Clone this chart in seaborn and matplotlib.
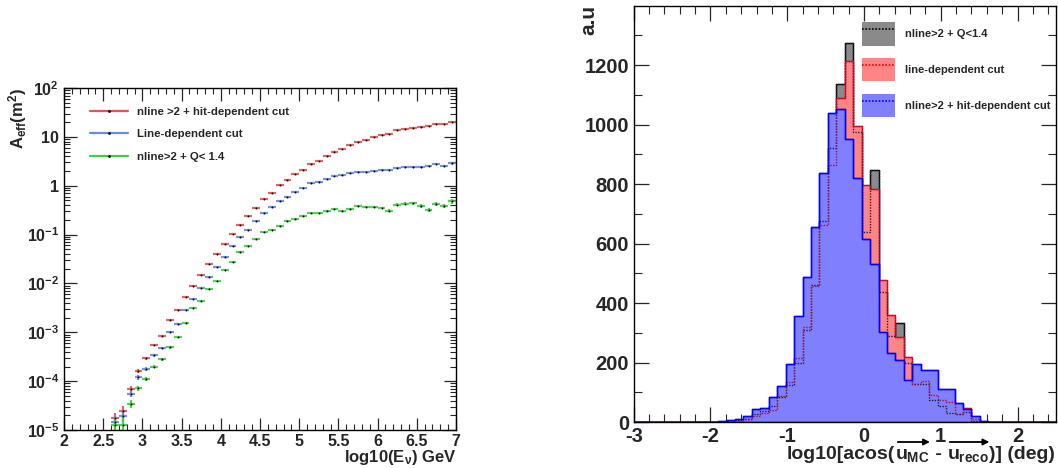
import numpy as np
import pandas as pd
import matplotlib
matplotlib.use('Agg')
import matplotlib.pyplot as plt
import matplotlib.ticker as mticker
from matplotlib.lines import Line2D
from matplotlib.patches import Patch, FancyArrowPatch
import seaborn as sns

# ---------------- left panel : effective area ----------------
log_e = [2.65, 2.75, 2.85, 2.95, 3.05, 3.15, 3.25, 3.35, 3.45, 3.55, 3.65,
         3.75, 3.85, 3.95, 4.05, 4.15, 4.25, 4.35, 4.45, 4.55, 4.65, 4.75,
         4.85, 4.95, 5.05, 5.15, 5.25, 5.35, 5.45, 5.55, 5.65, 5.75, 5.85,
         5.95, 6.05, 6.15, 6.25, 6.35, 6.45, 6.55, 6.65, 6.75, 6.85, 6.95]

aeff_hit = [1.74e-5, 2.45e-5, 6.9e-5, 1.62e-4, 2.95e-4, 5.5e-4, 8.5e-4, 1.78e-3,
            2.9e-3, 5.4e-3, 8.9e-3, 1.48e-2, 2.45e-2, 4.1e-2, 6.3e-2, 0.102,
            0.158, 0.24, 0.355, 0.54, 0.72, 1.02, 1.32, 1.74, 2.14, 2.8, 3.2,
            4.1, 5.0, 5.75, 6.8, 7.8, 8.5, 10.0, 10.7, 11.7, 13.5, 14.8, 15.5,
            16.2, 17.0, 18.2, 18.2, 20.0]
aeff_line = [1.48e-5, 1.95e-5, 5.5e-5, 1.2e-4, 1.78e-4, 3.4e-4, 4.8e-4, 1.0e-3,
             1.5e-3, 2.9e-3, 4.8e-3, 8.1e-3, 1.38e-2, 2.14e-2, 3.5e-2, 5.8e-2,
             8.9e-2, 0.126, 0.19, 0.275, 0.37, 0.48, 0.60, 0.76, 0.91, 1.15,
             1.2, 1.38, 1.55, 1.62, 1.78, 1.95, 1.95, 2.04, 2.14, 2.14, 2.34,
             2.45, 2.45, 2.45, 2.57, 2.75, 2.5, 2.88]
aeff_q = [1.26e-5, 1.26e-5, 3.5e-5, 7.1e-5, 1.1e-4, 2.0e-4, 2.8e-4, 4.9e-4,
          7.9e-4, 1.58e-3, 3.1e-3, 4.3e-3, 7.6e-3, 1.1e-2, 1.86e-2, 2.7e-2,
          4.5e-2, 5.9e-2, 8.1e-2, 0.112, 0.126, 0.148, 0.19, 0.21, 0.24,
          0.275, 0.275, 0.30, 0.34, 0.30, 0.34, 0.38, 0.37, 0.37, 0.35, 0.31,
          0.41, 0.43, 0.44, 0.39, 0.32, 0.43, 0.39, 0.48]

# relative statistical errors (fraction of the value)
err_hit = [0.3, 0.25, 0.15, 0.1, 0.07, 0.06, 0.05, 0.04, 0.03, 0.03, 0.02,
           0.02, 0.02, 0.02, 0.02, 0.02, 0.02, 0.02, 0.02, 0.02, 0.02, 0.02,
           0.02, 0.02, 0.02, 0.02, 0.02, 0.02, 0.02, 0.02, 0.02, 0.02, 0.02,
           0.02, 0.02, 0.02, 0.02, 0.02, 0.02, 0.02, 0.02, 0.02, 0.02, 0.03]
err_line = [0.35, 0.3, 0.15, 0.1, 0.08, 0.06, 0.05, 0.04, 0.03, 0.03, 0.02,
            0.02, 0.02, 0.02, 0.02, 0.02, 0.02, 0.02, 0.02, 0.02, 0.02, 0.02,
            0.02, 0.02, 0.02, 0.02, 0.02, 0.02, 0.02, 0.02, 0.02, 0.02, 0.02,
            0.03, 0.03, 0.03, 0.03, 0.03, 0.03, 0.03, 0.04, 0.04, 0.04, 0.06]
err_q = [0.4, 0.45, 0.2, 0.12, 0.1, 0.08, 0.06, 0.05, 0.04, 0.03, 0.03,
         0.03, 0.02, 0.02, 0.02, 0.02, 0.02, 0.02, 0.02, 0.02, 0.02, 0.03,
         0.03, 0.03, 0.03, 0.03, 0.03, 0.04, 0.04, 0.04, 0.04, 0.05, 0.05,
         0.05, 0.06, 0.06, 0.07, 0.08, 0.08, 0.09, 0.1, 0.1, 0.1, 0.13]

series_names = ['nline >2 + hit-dependent cut', 'Line-dependent cut', 'nline>2 + Q< 1.4']
series_colors = ['#e05555', '#6b8bd6', '#45cc45']

# ---------------- right panel : angular resolution histograms ----------------
bin_edges = [-3.0, -2.89, -2.78, -2.67, -2.56, -2.45, -2.34, -2.23, -2.12, -2.01,
             -1.9, -1.79, -1.68, -1.57, -1.46, -1.35, -1.24, -1.13, -1.02, -0.91,
             -0.8, -0.69, -0.58, -0.47, -0.36, -0.25, -0.14, -0.03, 0.08, 0.19,
             0.3, 0.41, 0.52, 0.63, 0.74, 0.85, 0.96, 1.07, 1.18, 1.29,
             1.4, 1.51, 1.62, 1.73, 1.84, 1.95, 2.06, 2.17, 2.28, 2.39, 2.5]

counts_q = [0, 0, 0, 0, 0, 0, 0, 0, 0, 1,
            2, 4, 6, 12, 28, 36, 55, 85, 125, 200,
            310, 460, 676, 921, 1135, 1275, 975, 640, 848, 438,
            289, 332, 199, 127, 128, 75, 55, 30, 28, 33,
            5, 1, 0, 0, 0, 0, 0, 0, 0, 0]
counts_line = [0, 0, 0, 0, 0, 2, 0, 2, 0, 1,
               2, 3, 5, 10, 22, 30, 42, 88, 135, 214,
               318, 458, 662, 865, 1090, 1213, 994, 798, 783, 478,
               361, 286, 219, 127, 138, 92, 73, 68, 28, 48,
               9, 1, 2, 2, 2, 0, 0, 0, 0, 0]
counts_hit = [0, 0, 0, 0, 0, 0, 0, 0, 0, 2,
              5, 8, 11, 20, 43, 48, 83, 122, 197, 358,
              486, 657, 837, 1039, 1053, 953, 821, 616, 532, 303,
              232, 208, 141, 197, 176, 176, 112, 112, 64, 43,
              19, 3, 0, 0, 0, 0, 0, 0, 0, 0]

hist_names = ['nline>2 + Q<1.4', 'line-dependent cut', 'nline>2 + hit-dependent cut']
hist_edge = ['black', '#ff0000', '#0000ff']
hist_fill = ['#8a8a8a', '#ff8585', '#8080ff']

# ---------------- style ----------------
sns.set_style('ticks')
plt.rcParams['font.family'] = ['Liberation Sans', 'DejaVu Sans']
plt.rcParams['font.weight'] = 'bold'
plt.rcParams['mathtext.fontset'] = 'custom'
plt.rcParams['mathtext.rm'] = 'Liberation Sans:bold'
plt.rcParams['mathtext.it'] = 'Liberation Sans:bold'
plt.rcParams['mathtext.bf'] = 'Liberation Sans:bold'
plt.rcParams['mathtext.sf'] = 'Liberation Sans:bold'
plt.rcParams['axes.linewidth'] = 1.0
plt.rcParams['axes.edgecolor'] = 'black'

W, H = 1058, 468
fig = plt.figure(figsize=(W / 100, H / 100), dpi=100)
ax1 = fig.add_axes([0.0605, 0.081, 0.3705, 0.731])
ax2 = fig.add_axes([0.599, 0.098, 0.399, 0.889])

# ---- left plot ----
df = pd.DataFrame({'logE': log_e * 3,
                   'aeff': aeff_hit + aeff_line + aeff_q,
                   'err': err_hit + err_line + err_q,
                   'cut': [series_names[0]] * len(log_e) + [series_names[1]] * len(log_e)
                          + [series_names[2]] * len(log_e)})
for name, col in zip(series_names, series_colors):
    sub = df[df['cut'] == name]
    ax1.errorbar(sub['logE'], sub['aeff'], xerr=0.05, yerr=sub['aeff'] * sub['err'],
                 fmt='none', ecolor=col, elinewidth=1.6, capsize=0, alpha=0.9)
sns.scatterplot(data=df, x='logE', y='aeff', color='black', s=2, linewidth=0,
                legend=False, ax=ax1, zorder=3)

ax1.set_yscale('log')
ax1.set_xlim(2, 7)
ax1.set_ylim(1e-5, 1e2)
ax1.xaxis.set_major_locator(mticker.MultipleLocator(0.5))
ax1.xaxis.set_minor_locator(mticker.MultipleLocator(0.1))
ax1.xaxis.set_major_formatter(mticker.FuncFormatter(lambda v, p: f'{v:g}'))


def log_fmt(v, p):
    e = int(round(np.log10(v)))
    if e == 0:
        return '1'
    if e == 1:
        return '10'
    return r'$10^{%d}$' % e


ax1.yaxis.set_major_locator(mticker.LogLocator(base=10, numticks=10))
ax1.yaxis.set_minor_locator(mticker.LogLocator(base=10, subs=np.arange(2, 10), numticks=20))
ax1.yaxis.set_major_formatter(mticker.FuncFormatter(log_fmt))
ax1.yaxis.set_minor_formatter(mticker.NullFormatter())
ax1.tick_params(which='both', direction='in', top=True, right=True, labelsize=11.5)
ax1.tick_params(axis='x', pad=3)
ax1.tick_params(which='major', length=9, width=0.9)
ax1.tick_params(which='minor', length=4.5, width=0.8)
ax1.set_xlabel('')
ax1.set_ylabel('')
fig.text(0.431, 0.002, r'log10(E$_{\nu}$) GeV', ha='right', va='bottom', fontsize=12,
         fontweight='bold')
fig.text(0.006, 0.812, r'A$_{\rm eff}$(m$^{2}$)', rotation=90, ha='left', va='top',
         fontsize=12, fontweight='bold')

handles = [Line2D([0], [0], color=c, lw=1.6, marker='.', markersize=2,
                  markerfacecolor='black', markeredgecolor='black') for c in series_colors]
ax1.legend(handles, series_names, loc='upper left', bbox_to_anchor=(0.04, 0.975),
           frameon=False, handlelength=3.3, handletextpad=0.85,
           labelspacing=1.1, prop={'weight': 'bold', 'size': 8.2})

# ---- right plot ----
centers = [(a + b) / 2 for a, b in zip(bin_edges[:-1], bin_edges[1:])]
for counts, ec, fc in zip([counts_q, counts_line, counts_hit], hist_edge, hist_fill):
    sns.histplot(x=centers, weights=counts, bins=bin_edges, element='step', fill=True,
                 color=fc, edgecolor=ec, alpha=1.0, linewidth=1.0, ax=ax2)
# dotted outlines visible through the front histogram
for counts, ec in zip([counts_q, counts_line], ['#202040', '#a01050']):
    sns.histplot(x=centers, weights=counts, bins=bin_edges, element='step', fill=False,
                 color=ec, linewidth=1.0, linestyle=(0, (1, 1)), ax=ax2)
sns.histplot(x=centers, weights=counts_hit, bins=bin_edges, element='step', fill=False,
             color='#0000ff', linewidth=1.0, ax=ax2)

ax2.set_xlim(-3, 2.5)
ax2.set_ylim(0, 1398)
ax2.xaxis.set_major_locator(mticker.MultipleLocator(1))
ax2.xaxis.set_minor_locator(mticker.MultipleLocator(0.2))
ax2.yaxis.set_major_locator(mticker.MultipleLocator(200))
ax2.yaxis.set_minor_locator(mticker.MultipleLocator(100))
ax2.xaxis.set_major_formatter(mticker.FuncFormatter(lambda v, p: f'{v:g}'))
ax2.tick_params(which='both', direction='in', top=True, right=True, labelsize=14.5)
ax2.tick_params(which='major', length=11, width=0.9)
ax2.tick_params(which='minor', length=5.5, width=0.8)
ax2.set_xlabel('')
ax2.set_ylabel('')
fig.text(0.548, 0.99, 'a.u', rotation=90, ha='left', va='top', fontsize=15,
         fontweight='bold')

hist_handles = [(Patch(facecolor=fc, edgecolor='none'), Line2D([0], [0], color=ec, lw=1.2, ls=(0, (1, 1))))
                for fc, ec in zip(hist_fill, hist_edge)]
ax2.legend(hist_handles, hist_names, loc='upper left', bbox_to_anchor=(0.541, 0.962),
           frameon=False, borderpad=0, borderaxespad=0, handlelength=3.0,
           handleheight=2.9, handletextpad=0.9, labelspacing=1.1,
           prop={'weight': 'bold', 'size': 8})

# x label of the right plot, assembled piece by piece so the vectors get long arrows
fig.canvas.draw()
renderer = fig.canvas.get_renderer()
parts = ['log10[acos(', r'$u_{MC}$', ' - ', r'$u_{reco}$', ')] (deg)']
base_y = 9  # baseline, pixels from bottom
texts = [fig.text(0, base_y / H, s, ha='left', va='baseline', fontsize=14,
                  fontweight='bold') for s in parts]
widths = [t.get_window_extent(renderer).width for t in texts]
x_cur = 1055 - sum(widths)
for t, w in zip(texts, widths):
    t.set_x(x_cur / W)
    x_cur += w
fig.canvas.draw()
top_y = texts[0].get_window_extent(renderer).y1
for t in (texts[1], texts[3]):
    ext = t.get_window_extent(renderer)
    arr = FancyArrowPatch((ext.x0 / W, (top_y + 4) / H), ((ext.x1 + 3) / W, (top_y + 4) / H),
                          transform=fig.transFigure, arrowstyle='-|>', mutation_scale=9,
                          lw=1.3, color='black')
    fig.add_artist(arr)

plt.savefig('out.png', dpi=100)
plt.close()
